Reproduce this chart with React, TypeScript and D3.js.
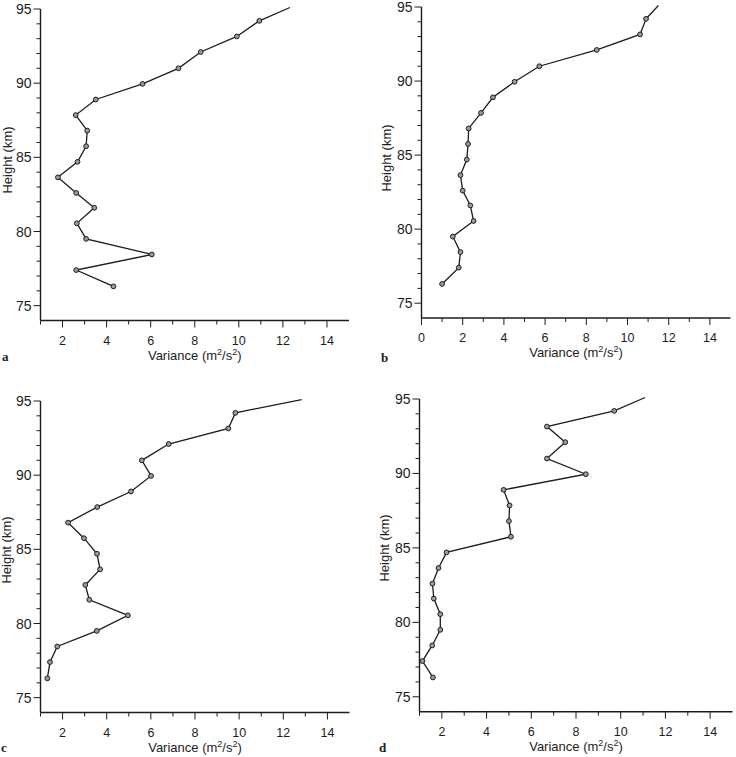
import React, { useEffect, useRef } from 'react';
import * as d3 from 'd3';

// heights (km) of the profile points, bottom to top; the last one is the line's end above 95 km
const heights = [76.3, 77.4, 78.45, 79.5, 80.55, 81.6, 82.6, 83.65, 84.7, 85.75, 86.8, 87.85, 88.9, 89.95, 91.0, 92.1, 93.15, 94.2, 95.1];

const varianceA = [4.31, 2.62, 6.05, 3.07, 2.65, 3.44, 2.62, 1.79, 2.68, 3.07, 3.12, 2.6, 3.51, 5.63, 7.26, 8.27, 9.91, 10.93, 12.32];
const varianceB = [1.0, 1.81, 1.89, 1.52, 2.53, 2.37, 2.0, 1.89, 2.2, 2.26, 2.29, 2.89, 3.47, 4.52, 5.72, 8.51, 10.61, 10.9, 11.5];
const varianceC = [1.31, 1.43, 1.76, 3.55, 4.96, 3.21, 3.03, 3.7, 3.56, 2.97, 2.25, 3.57, 5.1, 6.01, 5.59, 6.81, 9.51, 9.83, 12.83];
const varianceD = [1.6, 1.13, 1.57, 1.93, 1.93, 1.64, 1.58, 1.85, 2.21, 5.09, 5.0, 5.03, 4.76, 8.44, 6.7, 7.52, 6.7, 9.71, 11.09];

const panelLetters = ['a', 'b', 'c', 'd'];
const xTicksFrom1 = [2, 4, 6, 8, 10, 12, 14];
const xTicksFrom0 = [0, 2, 4, 6, 8, 10, 12, 14];
const yTicks = [75, 80, 85, 90, 95];

const ink = '#1c1c1c';

const panels = [
  { values: varianceA, xDomain: [1, 15], xRange: [40.5, 349], yRange: [320.5, 9], ticks: xTicksFrom1, titleX: 7, titleY: 160, letterX: 2, letterY: 361 },
  { values: varianceB, xDomain: [0, 15], xRange: [421.5, 730.5], yRange: [318, 7], ticks: xTicksFrom0, titleX: 386, titleY: 158, letterX: 381, letterY: 362 },
  { values: varianceC, xDomain: [1, 15], xRange: [40.5, 349.5], yRange: [712.5, 401], ticks: xTicksFrom1, titleX: 6, titleY: 550, letterX: 1, letterY: 752 },
  { values: varianceD, xDomain: [1, 15], xRange: [419.5, 732.5], yRange: [711.7, 399], ticks: xTicksFrom1, titleX: 384, titleY: 548, letterX: 379, letterY: 752 },
];

const App = () => {
  const svgRef = useRef<SVGSVGElement>(null);

  useEffect(() => {
    const svg = d3.select(svgRef.current);
    svg.selectAll('*').remove();

    panels.forEach((p, i) => {
      const x = d3.scaleLinear().domain(p.xDomain).range(p.xRange);
      const y = d3.scaleLinear().domain([74, 95]).range(p.yRange);
      const g = svg.append('g');
      const x0 = p.xRange[0];
      const yBottom = p.yRange[0];

      // y axis
      g.append('line').attr('x1', x0).attr('x2', x0).attr('y1', y(95)).attr('y2', yBottom)
        .attr('stroke', ink).attr('stroke-width', 1.4);
      d3.range(75, 96).forEach(h => {
        const major = h % 5 === 0;
        g.append('line').attr('x1', x0 - (major ? 7 : 4)).attr('x2', x0)
          .attr('y1', y(h)).attr('y2', y(h)).attr('stroke', ink).attr('stroke-width', 1);
      });
      g.selectAll('.ylab').data(yTicks).enter().append('text')
        .attr('x', x0 - 9).attr('y', d => y(d)).attr('dy', '0.36em')
        .attr('text-anchor', 'end').attr('font-size', 14).attr('fill', ink)
        .text(d => d);

      // x axis
      g.append('line').attr('x1', x0).attr('x2', p.xRange[1]).attr('y1', yBottom).attr('y2', yBottom)
        .attr('stroke', ink).attr('stroke-width', 1.4);
      d3.range(p.xDomain[0], 15).forEach(v => {
        const major = v % 2 === 0;
        g.append('line').attr('x1', x(v)).attr('x2', x(v)).attr('y1', yBottom).attr('y2', yBottom + (major ? 7 : 4))
          .attr('stroke', ink).attr('stroke-width', 1);
      });
      g.selectAll('.xlab').data(p.ticks).enter().append('text')
        .attr('x', d => x(d)).attr('y', yBottom + 24)
        .attr('text-anchor', 'middle').attr('font-size', 12.5).attr('fill', ink)
        .text(d => d);

      // axis titles
      const xt = g.append('text')
        .attr('x', (p.xRange[0] + p.xRange[1]) / 2).attr('y', yBottom + 39)
        .attr('text-anchor', 'middle').attr('font-size', 13).attr('fill', ink);
      xt.append('tspan').text('Variance (m');
      xt.append('tspan').attr('dy', -5).attr('font-size', 9).text('2');
      xt.append('tspan').attr('dy', 5).text('/s');
      xt.append('tspan').attr('dy', -5).attr('font-size', 9).text('2');
      xt.append('tspan').attr('dy', 5).text(')');

      g.append('text')
        .attr('transform', `translate(${p.titleX},${p.titleY}) rotate(-90)`)
        .attr('dy', '0.36em').attr('text-anchor', 'middle').attr('font-size', 13).attr('fill', ink)
        .text('Height (km)');

      g.append('text')
        .attr('x', p.letterX).attr('y', p.letterY)
        .attr('font-family', '"Liberation Serif", serif').attr('font-weight', 'bold').attr('font-size', 13)
        .attr('fill', ink).text(panelLetters[i]);

      // profile
      const pts = p.values.map((v, k) => ({ v, h: heights[k] }));
      const line = d3.line<{ v: number; h: number }>().x(d => x(d.v)).y(d => y(d.h));
      g.append('path').datum(pts).attr('d', line).attr('fill', 'none')
        .attr('stroke', ink).attr('stroke-width', 1.3);
      g.selectAll('circle').data(pts.slice(0, -1)).enter().append('circle')
        .attr('cx', d => x(d.v)).attr('cy', d => y(d.h)).attr('r', 2.4)
        .attr('fill', '#9a9a9a').attr('stroke', ink).attr('stroke-width', 1);
    });
  }, []);

  return (
    <svg
      ref={svgRef}
      width={736}
      height={757}
      style={{ position: 'absolute', left: 0, top: 0, background: '#fff', fontFamily: '"Liberation Sans", Arial, sans-serif' }}
    />
  );
};

export default App;
